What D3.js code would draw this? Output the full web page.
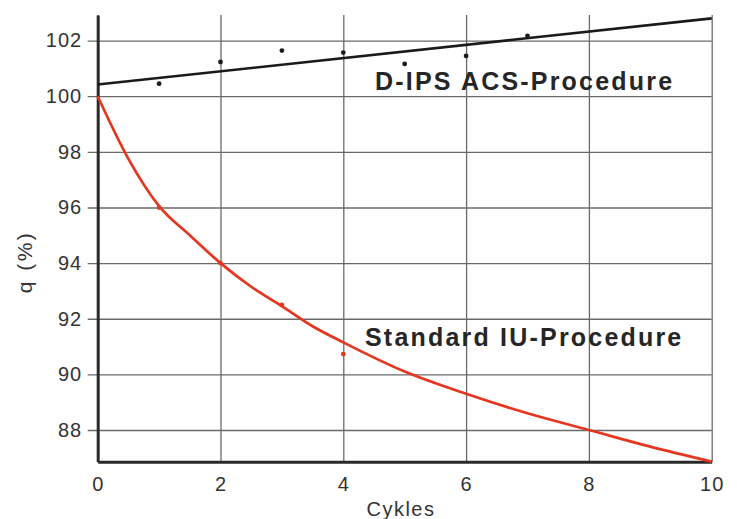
<!DOCTYPE html>
<html>
<head>
<meta charset="utf-8">
<script src="https://cdn.jsdelivr.net/npm/d3@7"></script>
<style>
  html, body { margin: 0; padding: 0; background: #fff; }
  svg { display: block; }
  text { font-family: "Liberation Sans", Arial, Helvetica, sans-serif; }
</style>
</head>
<body>
<svg id="chart" width="737" height="519"></svg>
<script>
// ---- data ----
const xTicks = [0, 2, 4, 6, 8, 10];
const yTicks = [88, 90, 92, 94, 96, 98, 100, 102];

// D-IPS ACS-Procedure: fitted line end points and measured points
const dipsLineX = [0, 10];
const dipsLineY = [100.42, 102.8];
const dipsPointX = [1, 2, 3, 4, 5, 6, 7];
const dipsPointY = [100.45, 101.23, 101.64, 101.57, 101.16, 101.45, 102.17];

// Standard IU-Procedure: curve and measured points
const iuCurveX = [0, 0.5, 1, 1.5, 2, 2.5, 3, 3.5, 4, 5, 6, 7, 8, 9, 10];
const iuCurveY = [100, 97.75, 96.05, 95.0, 94.0, 93.15, 92.45, 91.73, 91.15, 90.1, 89.3, 88.6, 88.0, 87.4, 86.86];
const iuPointX = [1, 2, 3, 4];
const iuPointY = [96.0, 94.0, 92.5, 90.73];

const labels = { dips: "D-IPS ACS-Procedure", iu: "Standard IU-Procedure", x: "Cykles", y: "q (%)" };

// ---- layout ----
const margin = { left: 97.7, right: 25.3, top: 15, bottom: 57.3 };
const W = 737 - margin.left - margin.right;
const H = 519 - margin.top - margin.bottom;

const svg = d3.select("#chart");
const g = svg.append("g").attr("transform", `translate(${margin.left},${margin.top})`);

const x = d3.scaleLinear().domain([0, 10]).range([0, W]);
const y = d3.scaleLinear().domain([86.86, 102.92]).range([H, 0]);

const gridColor = "#6a6a6a";

// horizontal gridlines (extend 10px left of axis)
const gy = g.append("g").attr("transform", "translate(-10,0)")
  .call(d3.axisLeft(y).tickValues(yTicks).tickSize(-(W + 10)).tickFormat(""));
gy.select(".domain").remove();
gy.selectAll(".tick line").attr("stroke", gridColor).attr("stroke-width", 1.3);

// vertical gridlines
const gx = g.append("g").attr("transform", `translate(0,${H})`)
  .call(d3.axisBottom(x).tickValues(xTicks).tickSize(-H).tickFormat(""));
gx.select(".domain").remove();
gx.selectAll(".tick line").attr("stroke", gridColor).attr("stroke-width", 1.3);

// y tick labels
const ly = g.append("g")
  .call(d3.axisLeft(y).tickValues(yTicks).tickSize(0).tickPadding(15.5).tickFormat(d3.format("d")));
ly.select(".domain").remove();
ly.selectAll("text").attr("font-size", 20).attr("fill", "#333").attr("letter-spacing", "1px")
  .attr("font-family", "Liberation Sans, Arial, sans-serif");

// x tick labels
const lx = g.append("g").attr("transform", `translate(0,${H})`)
  .call(d3.axisBottom(x).tickValues(xTicks).tickSize(0).tickPadding(15).tickFormat(d3.format("d")));
lx.select(".domain").remove();
lx.selectAll("text").attr("font-size", 20).attr("fill", "#333").attr("letter-spacing", "1px")
  .attr("font-family", "Liberation Sans, Arial, sans-serif");

// thick axis lines
const ax = g.append("g").attr("transform", `translate(0,${H})`)
  .call(d3.axisBottom(x).tickValues([]).tickSizeOuter(0));
ax.select(".domain").attr("stroke", "#2a2a2a").attr("stroke-width", 3);
const ay = g.append("g")
  .call(d3.axisLeft(y).tickValues([]).tickSizeOuter(0));
ay.select(".domain").attr("stroke", "#2a2a2a").attr("stroke-width", 3);

// D-IPS line
const dipsLine = dipsLineX.map((d, i) => [d, dipsLineY[i]]);
g.append("path")
  .datum(dipsLine)
  .attr("fill", "none").attr("stroke", "#1a1a1a").attr("stroke-width", 2.6)
  .attr("d", d3.line().x(d => x(d[0])).y(d => y(d[1])));
g.selectAll(".dipsPt").data(dipsPointX.map((d, i) => [d, dipsPointY[i]]))
  .enter().append("circle")
  .attr("cx", d => x(d[0])).attr("cy", d => y(d[1])).attr("r", 2.4).attr("fill", "#1a1a1a");

// IU curve
const red = "#e5361f";
const iuCurve = iuCurveX.map((d, i) => [d, iuCurveY[i]]);
g.append("path")
  .datum(iuCurve)
  .attr("fill", "none").attr("stroke", red).attr("stroke-width", 2.7)
  .attr("d", d3.line().curve(d3.curveMonotoneX).x(d => x(d[0])).y(d => y(d[1])));
g.selectAll(".iuPt").data(iuPointX.map((d, i) => [d, iuPointY[i]]))
  .enter().append("circle")
  .attr("cx", d => x(d[0])).attr("cy", d => y(d[1])).attr("r", 2.4).attr("fill", red);

// series labels
svg.append("text").attr("x", 375).attr("y", 90)
  .attr("font-size", 25).attr("font-weight", "bold").attr("fill", "#262626")
  .attr("letter-spacing", "2.2px").text(labels.dips);
svg.append("text").attr("x", 365).attr("y", 345.5)
  .attr("font-size", 25).attr("font-weight", "bold").attr("fill", "#262626")
  .attr("letter-spacing", "2.2px").text(labels.iu);

// axis titles
svg.append("text").attr("x", 401).attr("y", 516)
  .attr("text-anchor", "middle").attr("font-size", 20).attr("fill", "#333")
  .attr("letter-spacing", "1.5px").text(labels.x);
svg.append("text")
  .attr("transform", "translate(32,262) rotate(-90)")
  .attr("text-anchor", "middle").attr("font-size", 21).attr("fill", "#333")
  .attr("letter-spacing", "2.5px").text(labels.y);
</script>
</body>
</html>
